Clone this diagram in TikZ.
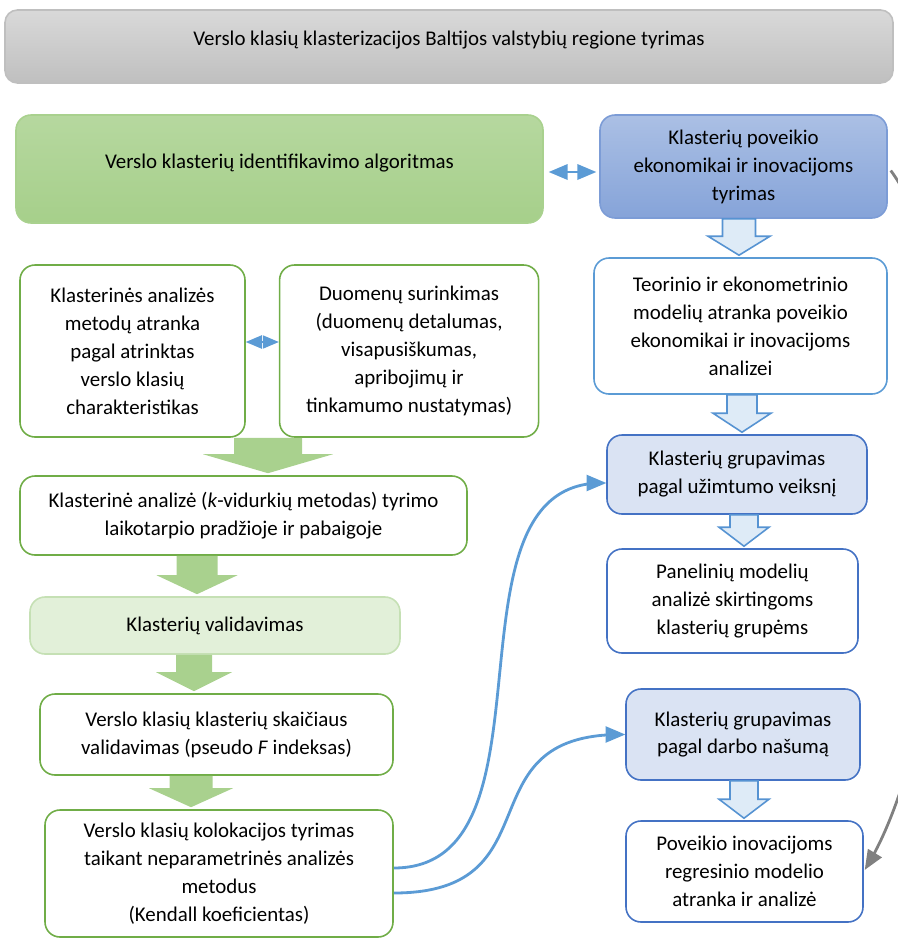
\documentclass[tikz,border=0pt]{standalone}
\usepackage{fontspec}
\setmainfont{Carlito}
\usetikzlibrary{arrows}
\usetikzlibrary{calc}
\usetikzlibrary{positioning}
\definecolor{leafgreen}{HTML}{70AD47}
\definecolor{palegreen}{HTML}{E2F0D9}
\definecolor{softgreen}{HTML}{C5E0B4}
\definecolor{arrowgreen}{HTML}{A9D18E}
\definecolor{linkblue}{HTML}{5B9BD5}
\definecolor{deepblue}{HTML}{4472C4}
\definecolor{paleblue}{HTML}{DAE3F3}
\definecolor{arrowblue}{HTML}{DEEBF7}
\tikzstyle{box} = [rectangle, rounded corners=0.3cm, align=center, inner sep=2pt,
  line width=0.9pt, font=\fontsize{11.9}{15.9}\selectfont]
\tikzstyle{greenbox} = [box, draw=leafgreen, fill=white]
\tikzstyle{validbox} = [box, draw=softgreen, fill=palegreen]
\tikzstyle{bluebox} = [box, draw=deepblue, fill=white]
\tikzstyle{groupbox} = [box, draw=deepblue, fill=paleblue]
\tikzstyle{garrow} = [fill=arrowgreen]
\tikzstyle{barrow} = [fill=arrowblue, draw=linkblue!80!deepblue, line width=0.9pt]
\tikzstyle{link} = [->, draw=linkblue, line width=1.6pt]
\tikzset{>={triangle 45}}
\newcommand{\fatarrow}[6][]{ %
  % Block arrow from node #2 down to node #3, centred at x=#4,
  % shaft and head half widths #5 and #6.
  \path[#1] let \p1=(#2.south), \p2=(#3.north) in
    ({(#4-#5)*1cm},\y1) -- ({(#4+#5)*1cm},\y1) -- ({(#4+#5)*1cm},{\y2+0.42cm})
    -- ({(#4+#6)*1cm},{\y2+0.42cm}) -- ({#4*1cm},{\y2+0.04cm})
    -- ({(#4-#6)*1cm},{\y2+0.42cm}) -- ({(#4-#5)*1cm},{\y2+0.42cm}) -- cycle;
}

\begin{document}
\begin{tikzpicture}
  \useasboundingbox (0,0) rectangle (17.96,-18.76);

  \node[box, rounded corners=0.25cm, top color=black!15, bottom color=black!25,
    draw=black!25, minimum width=17.76cm, minimum height=1.46cm] (title) at (8.98,-0.93) {};
  \node[font=\fontsize{11.9}{15.9}\selectfont] (titletext) at (8.98,-0.8)
    {Verslo klasių klasterizacijos Baltijos valstybių regione tyrimas};

  % left column
  \node[box, top color=arrowgreen!85!white, bottom color=arrowgreen!95!leafgreen,
    draw=arrowgreen, minimum width=10.54cm, minimum height=2.16cm] (algo) at (5.59,-3.38) {};
  \node[font=\fontsize{11.9}{15.9}\selectfont] (algotext) at (5.59,-3.26)
    {Verslo klasterių identifikavimo algoritmas};
  \node[greenbox, minimum width=4.5cm, minimum height=3.44cm] (metod) at (2.65,-7.02)
    {Klasterinės analizės\\metodų atranka\\pagal atrinktas\\verslo klasių\\charakteristikas};
  \node[greenbox, minimum width=5.18cm, minimum height=3.44cm, right=0.66cm of metod] (data)
    {Duomenų surinkimas\\(duomenų detalumas,\\visapusiškumas,\\apribojimų ir\\tinkamumo nustatymas)};
  \node[greenbox, minimum width=8.94cm, minimum height=1.58cm] (kmeans) at (4.87,-10.31)
    {Klasterinė analizė (\textit{k}-vidurkių metodas) tyrimo\\laikotarpio pradžioje ir pabaigoje};
  \node[validbox, minimum width=7.4cm, minimum height=1.14cm] (valid) at (4.3,-12.51)
    {Klasterių validavimas};
  \node[greenbox, minimum width=7.06cm, minimum height=1.62cm] (count) at (4.33,-14.69)
    {Verslo klasių klasterių skaičiaus\\validavimas (pseudo \textit{F} indeksas)};
  \node[greenbox, minimum width=6.96cm, minimum height=2.54cm] (coloc) at (4.38,-17.47)
    {Verslo klasių kolokacijos tyrimas\\taikant neparametrinės analizės\\metodus\\(Kendall koeficientas)};

  % right column
  \node[box, top color=deepblue!45!white, bottom color=deepblue!65!white,
    draw=deepblue!70!white, minimum width=5.74cm, minimum height=2.06cm] (impact) at (14.87,-3.33)
    {Klasterių poveikio\\ekonomikai ir inovacijoms\\tyrimas};
  \node[box, draw=linkblue, fill=white, minimum width=5.86cm, minimum height=2.72cm] (model) at (14.81,-6.52)
    {Teorinio ir ekonometrinio\\modelių atranka poveikio\\ekonomikai ir inovacijoms\\analizei};
  \node[groupbox, minimum width=5.2cm, minimum height=1.58cm] (jobs) at (14.74,-9.49)
    {Klasterių grupavimas\\pagal užimtumo veiksnį};
  \node[bluebox, minimum width=5.02cm, minimum height=2.08cm] (panel) at (14.65,-12.02)
    {Panelinių modelių\\analizė skirtingoms\\klasterių grupėms};
  \node[groupbox, minimum width=4.68cm, minimum height=1.82cm] (prod) at (14.86,-14.69)
    {Klasterių grupavimas\\pagal darbo našumą};
  \node[bluebox, minimum width=4.74cm, minimum height=2.02cm] (innov) at (14.89,-17.43)
    {Poveikio inovacijoms\\regresinio modelio\\atranka ir analizė};

  % block arrows
  \fatarrow[garrow]{metod}{kmeans}{5.36}{0.68}{1.3}
  \fatarrow[garrow]{kmeans}{valid}{3.94}{0.41}{0.81}
  \fatarrow[garrow]{valid}{count}{3.88}{0.36}{0.76}
  \fatarrow[garrow]{count}{coloc}{3.82}{0.43}{0.84}
  \fatarrow[barrow]{impact}{model}{14.78}{0.33}{0.62}
  \fatarrow[barrow]{model}{jobs}{14.84}{0.3}{0.58}
  \fatarrow[barrow]{jobs}{panel}{14.88}{0.28}{0.5}
  \fatarrow[barrow]{prod}{innov}{14.88}{0.28}{0.5}

  % links
  \draw[link, <->, line width=1.5pt, shorten <=0.1cm, shorten >=0.06cm]
    ([yshift=-0.06cm]algo.east) -- ([yshift=-0.06cm]algo.east -| impact.west);
  \draw[link, <->, line width=1.1pt]
    ([yshift=0.18cm]metod.east) -- ([yshift=0.18cm]metod.east -| data.west);
  \draw[link] ([yshift=0.11cm]coloc.east) to[out=0, in=180] ([yshift=-0.17cm]jobs.west);
  \draw[link] ([yshift=-0.39cm]coloc.east) to[out=0, in=180, looseness=1.5] (prod.west);
  \draw[->, draw=black!50, line width=1.6pt, shorten <=0.1cm, shorten >=0.04cm]
    (impact.east) .. controls +(1.96,-2.66) and +(1.84,3.04) .. (innov.east);
\end{tikzpicture}
\end{document}
